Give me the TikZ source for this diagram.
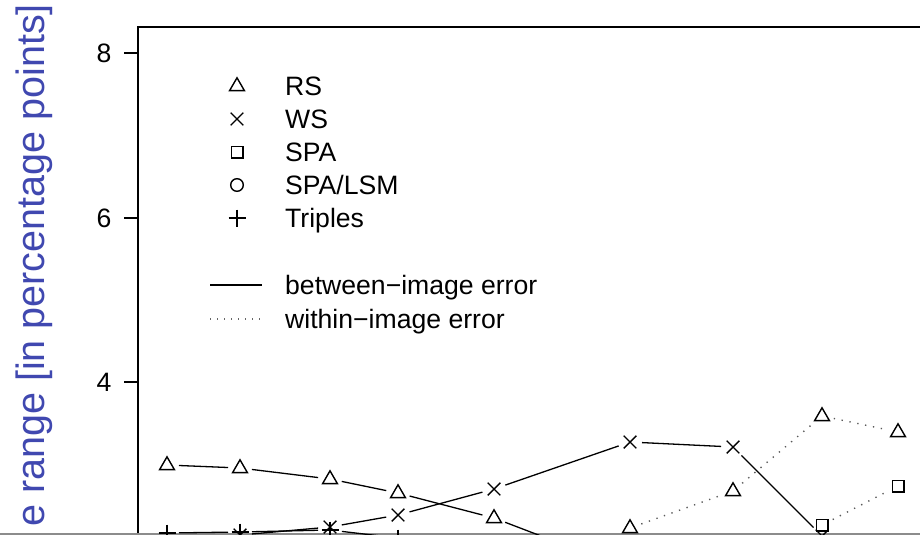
\documentclass[tikz,border=0pt]{standalone}
\usepackage{fontspec}
\setmainfont{Liberation Sans}
\definecolor{labelblue}{RGB}{64,72,176}
\definecolor{rulegray}{RGB}{140,140,140}
\begin{document}
\begin{tikzpicture}[x=1pt,y=-1pt,
  frame/.style={line width=1.3pt,black},
  mk/.style={line width=1.4pt,black,line join=miter},
  solidseg/.style={line width=1.3pt,black,shorten >=12pt,shorten <=12pt},
  dotseg/.style={line width=1.4pt,black!65,dash pattern=on 1.3pt off 6.7pt,shorten >=12pt,shorten <=12pt},
  lbl/.style={font=\fontsize{26.6}{32}\selectfont,inner sep=0pt},
  tri/.pic={\draw[mk] (0,-8.2) -- (7.4,4.6) -- (-7.4,4.6) -- cycle;},
  xx/.pic={\draw[mk] (-6.3,-6.3) -- (6.3,6.3) (-6.3,6.3) -- (6.3,-6.3);},
  sq/.pic={\draw[mk] (-5.8,-5.8) rectangle (5.8,5.8);},
  ci/.pic={\draw[mk] (0,0) circle (6.3);},
  pl/.pic={\draw[mk] (-8.5,0) -- (8.5,0) (0,-8.5) -- (0,8.5);}]
\useasboundingbox (0,0) rectangle (920,536);

% axis title
\node[rotate=90,anchor=base west,inner sep=0pt,text=labelblue,
      font=\fontsize{39.5}{46}\selectfont] (ytitle) at (44,527) {e range [in percentage points]};

% plot frame
\coordinate (tl) at (138,27);
\coordinate (tr) at (920,27);
\coordinate (bl) at (138,534);
\draw[frame] (bl) -- (tl) -- (tr);
\draw[line width=1.4pt,rulegray] (0,534) -- (920,534);

% y ticks
\foreach \v/\yy in {8/53,6/218,4/382}{
  \coordinate (t\v a) at (124,\yy);
  \coordinate (t\v b) at (138,\yy);
  \draw[frame] (t\v a) -- (t\v b);
  \node[lbl,anchor=base] (tick\v) at (104,\yy+9.5) {\v};
}

% legend
\foreach \p/\t/\yy [count=\i] in {tri/RS/86,xx/WS/119,sq/SPA/152,ci/SPA\slash LSM/185,pl/Triples/218}{
  \pic at (237,\yy) {\p};
  \node[lbl,anchor=base west] (leg\i) at (285,\yy+9.5) {\t};
}
\coordinate (la1) at (210,285); \coordinate (lb1) at (262,285);
\coordinate (la2) at (210,319); \coordinate (lb2) at (262,319);
\draw[line width=1.3pt] (la1) -- (lb1);
\draw[line width=1.4pt,black!60,dash pattern=on 1.3pt off 5.7pt] (la2) -- (lb2);
\node[lbl,anchor=base west] (legb) at (285,294.5) {between\char"2212 image error};
\node[lbl,anchor=base west] (legw) at (285,328.5) {within\char"2212 image error};

% data
\begin{scope}
\clip (138,27) rectangle (920,534);
% RS
\foreach \n/\px/\py in {1/167/465,2/240/468,3/330/479,4/398/493,5/494/518,6/575/549,7/630/528,8/733/491,9/822/416,10/898/432}
  \coordinate (rs\n) at (\px,\py);
\foreach \a/\b in {1/2,2/3,3/4,4/5,5/6} \draw[solidseg] (rs\a) -- (rs\b);
\foreach \a/\b in {7/8,8/9,9/10} \draw[dotseg] (rs\a) -- (rs\b);
\foreach \n in {1,2,3,4,5,7,8,9,10} \pic at (rs\n) {tri};
% WS
\foreach \n/\px/\py in {1/240/535,2/330/527,3/398/515,4/494/489,5/630/442,6/733/447,7/822/536}
  \coordinate (ws\n) at (\px,\py);
\foreach \a/\b in {1/2,2/3,3/4,4/5,5/6,6/7} \draw[solidseg] (ws\a) -- (ws\b);
\foreach \n in {1,...,7} \pic at (ws\n) {xx};
% Triples
\foreach \n/\px/\py in {1/167/533,2/240/532,3/330/530,4/398/538}
  \coordinate (tp\n) at (\px,\py);
\foreach \a/\b in {1/2,2/3,3/4} \draw[solidseg] (tp\a) -- (tp\b);
\foreach \n in {1,...,4} \pic at (tp\n) {pl};
% SPA
\coordinate (sp1) at (822,525);
\coordinate (sp2) at (898,486);
\draw[dotseg] (sp1) -- (sp2);
\fill[white] (816.2,519.2) rectangle (827.8,530.8);
\pic at (sp1) {sq};
\pic at (sp2) {sq};
\end{scope}
\end{tikzpicture}
\end{document}
